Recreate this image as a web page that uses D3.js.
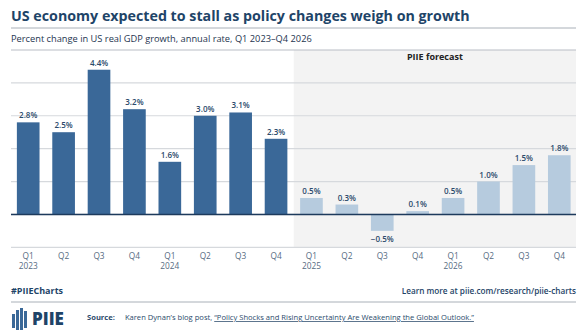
<!DOCTYPE html>
<html>
<head>
<meta charset="utf-8">
<script src="https://cdn.jsdelivr.net/npm/d3@7"></script>
<style>
  body { margin: 0; background: #fff; }
  text { font-family: "Open Sans", Lato, sans-serif; }
</style>
</head>
<body>
<svg id="chart" width="584" height="335"></svg>
<script>
// quarters and GDP growth (%)
var quarters = ["Q1 2023", "Q2 2023", "Q3 2023", "Q4 2023", "Q1 2024", "Q2 2024", "Q3 2024", "Q4 2024",
                "Q1 2025", "Q2 2025", "Q3 2025", "Q4 2025", "Q1 2026", "Q2 2026", "Q3 2026", "Q4 2026"];
var growth = [2.8, 2.5, 4.4, 3.2, 1.6, 3.0, 3.1, 2.3, 0.5, 0.3, -0.5, 0.1, 0.5, 1.0, 1.5, 1.8];
var forecast = [false, false, false, false, false, false, false, false, true, true, true, true, true, true, true, true];
var yTicks = [-1, 0, 1, 2, 3, 4, 5];

var svg = d3.select("#chart");
var navy = "#1e4468";

var data = quarters.map(function(q, i) {
  return { q: q, v: growth[i], f: forecast[i] };
});

var x = d3.scaleBand()
    .domain(quarters)
    .range([10.5, 577])
    .paddingInner(0.36)
    .paddingOuter(0.18);

var y = d3.scaleLinear()
    .domain([-1, 5])
    .range([247.3, 50]);

/* forecast shading */
var fStart = x(quarters[8]) - x.step() * x.paddingInner() / 2;
svg.append("rect")
    .attr("x", fStart)
    .attr("y", y(5))
    .attr("width", 576 - fStart)
    .attr("height", y(-1) - y(5))
    .attr("fill", "#f3f3f3");

/* gridlines */
svg.append("g").selectAll("line")
    .data(yTicks)
    .enter().append("line")
    .attr("x1", 11).attr("x2", 576)
    .attr("y1", function(d) { return y(d); })
    .attr("y2", function(d) { return y(d); })
    .attr("stroke", function(d) { return d === 5 ? "#b9bec5" : "#d6d9dd"; })
    .attr("stroke-width", 1.2);

svg.append("text")
    .attr("x", (fStart + 576) / 2)
    .attr("y", 60)
    .attr("text-anchor", "middle")
    .attr("font-size", 9)
    .attr("font-weight", 700)
    .attr("fill", "#222")
    .text("PIIE forecast");

/* bars */
svg.append("g").selectAll("rect")
    .data(data)
    .enter().append("rect")
    .attr("x", function(d) { return x(d.q); })
    .attr("y", function(d) { return y(Math.max(0, d.v)); })
    .attr("width", x.bandwidth())
    .attr("height", function(d) { return Math.abs(y(d.v) - y(0)); })
    .attr("fill", function(d) { return d.f ? "#b6cbde" : "#3a6898"; });

/* zero line */
svg.append("line")
    .attr("x1", 11).attr("x2", 576)
    .attr("y1", y(0)).attr("y2", y(0))
    .attr("stroke", "#1d3a5c")
    .attr("stroke-width", 1.5);

/* value labels */
svg.append("g").selectAll("text")
    .data(data)
    .enter().append("text")
    .attr("x", function(d) { return x(d.q) + x.bandwidth() / 2; })
    .attr("y", function(d) { return d.v >= 0 ? y(d.v) - 4 : y(d.v) + 11; })
    .attr("text-anchor", "middle")
    .attr("font-size", 8)
    .attr("font-weight", 600)
    .attr("fill", "#2b4a6b")
    .text(function(d) { return (d.v < 0 ? "\u2212" + Math.abs(d.v).toFixed(1) : d.v.toFixed(1)) + "%"; });

/* x axis labels */
var xl = svg.append("g").selectAll("text")
    .data(data)
    .enter().append("text")
    .attr("x", function(d) { return x(d.q) + x.bandwidth() / 2; })
    .attr("y", 259)
    .attr("text-anchor", "middle")
    .attr("font-size", 8.3)
    .attr("fill", "#566b82");
xl.append("tspan").text(function(d) { return d.q.split(" ")[0]; });
xl.filter(function(d) { return d.q.indexOf("Q1") === 0; })
  .append("tspan")
    .attr("x", function(d) { return x(d.q) + x.bandwidth() / 2; })
    .attr("dy", 10)
    .text(function(d) { return d.q.split(" ")[1]; });

/* title + subtitle */
var title = svg.append("text")
    .attr("x", 11).attr("y", 21)
    .attr("font-size", 15)
    .attr("font-weight", 700)
    .attr("fill", navy)
    .text("US economy expected to stall as policy changes weigh on growth");
var tw = title.node().getComputedTextLength();
title.attr("font-size", 15 * 459 / tw);

svg.append("line")
    .attr("x1", 11).attr("x2", 576).attr("y1", 28).attr("y2", 28)
    .attr("stroke", "#a9b0b8").attr("stroke-width", 1);

var sub = svg.append("text")
    .attr("x", 11).attr("y", 42)
    .attr("font-size", 9)
    .attr("fill", "#1e3550")
    .text("Percent change in US real GDP growth, annual rate, Q1 2023\u2013Q4 2026");
var sw = sub.node().getComputedTextLength();
sub.attr("font-size", 9 * 301 / sw);

/* footer */
svg.append("text")
    .attr("x", 11).attr("y", 294)
    .attr("font-size", 9)
    .attr("font-weight", 700)
    .attr("fill", navy)
    .text("#PIIECharts");

svg.append("text")
    .attr("x", 576).attr("y", 294)
    .attr("text-anchor", "end")
    .attr("font-size", 8.2)
    .attr("font-weight", 600)
    .attr("fill", navy)
    .text("Learn more at piie.com/research/piie-charts");

svg.append("line")
    .attr("x1", 11).attr("x2", 576).attr("y1", 302).attr("y2", 302)
    .attr("stroke", "#a9b0b8").attr("stroke-width", 1);

/* logo */
var logo = svg.append("g").attr("transform", "translate(12,308)");
var logoBars = [[0, 6, 3, 14], [4, 2, 3, 20], [8, 0, 3, 22], [12, 3, 3, 17]];
logo.selectAll("rect")
    .data(logoBars)
    .enter().append("rect")
    .attr("x", function(d) { return d[0]; })
    .attr("y", function(d) { return d[1]; })
    .attr("width", function(d) { return d[2]; })
    .attr("height", function(d) { return d[3]; })
    .attr("fill", "#3a6898");
logo.append("text")
    .attr("x", 20).attr("y", 17)
    .attr("font-size", 17)
    .attr("font-weight", 800)
    .attr("fill", navy)
    .text("PIIE");

var src = svg.append("text")
    .attr("x", 87).attr("y", 320)
    .attr("font-size", 7.6)
    .attr("fill", "#2b4a6b");
src.append("tspan").attr("font-weight", 700).text("Source:");
src.append("tspan").attr("dx", 10).text("Karen Dynan\u2019s blog post, ");
src.append("tspan")
    .attr("text-decoration", "underline")
    .text("\u201CPolicy Shocks and Rising Uncertainty Are Weakening the Global Outlook.\u201D");
</script>
</body>
</html>
